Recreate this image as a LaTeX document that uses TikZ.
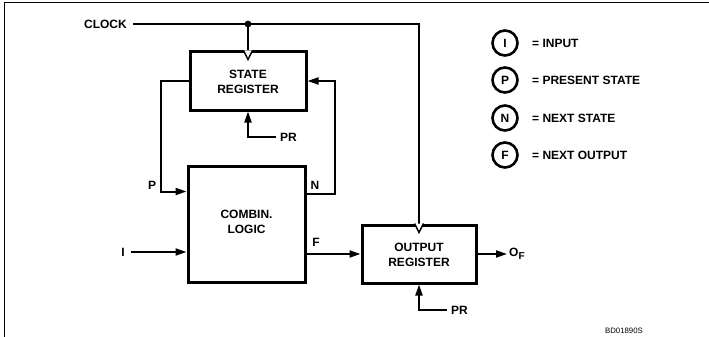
\documentclass[tikz,border=0pt]{standalone}
\usepackage{fontspec}
\setmainfont{Liberation Sans}
\usetikzlibrary{arrows.meta,calc}
\begin{document}
\begin{tikzpicture}[x=1pt,y=-1pt,
  font=\fontsize{12}{15}\selectfont\bfseries,
  blockbox/.style={draw,line width=3pt,inner sep=0pt,align=center},
  wire/.style={line width=2pt},
  arr/.style={wire,-{Triangle[length=11pt,width=7pt]}},
  lgnd/.style={circle,draw,line width=2.6pt,minimum size=25pt,inner sep=0pt},
  lbl/.style={inner sep=1pt},
  clk/.style={line width=1.5pt,fill=white}]
\useasboundingbox (0,0) rectangle (709,337);
% frame
\draw[line width=1.6pt] (4.5,337) -- (4.5,2.5) -- (709,2.5);
% blocks
\node[blockbox,minimum width=116pt,minimum height=58pt] (state) at (248,81) {};
\node[align=center] (statetxt) at (248,81.5) {STATE\\REGISTER};
\node[blockbox,minimum width=117pt,minimum height=116pt] (logic) at (246.5,224) {};
\node[align=center] (logictxt) at (246.5,221.5) {COMBIN.\\LOGIC};
\node[blockbox,minimum width=114pt,minimum height=58pt] (outreg) at (419,254) {};
\node[align=center] (outregtxt) at (419,254.5) {OUTPUT\\REGISTER};
% clock
\node[lbl,anchor=east] (clock) at (128,24) {CLOCK};
\coordinate (dot) at (state.north |- clock);
\coordinate (ckr) at (outreg.north |- clock);
\draw[wire] ([xshift=5pt]clock.east) -- (ckr) -- (outreg.north);
\draw[wire] (dot) -- (state.north);
\fill (dot) circle (3.4pt);
\draw[clk] ($(state.north)+(-4.5,0)$) -- ($(state.north)+(0,9)$) -- ($(state.north)+(4.5,0)$);
\draw[clk] ($(outreg.north)+(-4.5,0)$) -- ($(outreg.north)+(0,9)$) -- ($(outreg.north)+(4.5,0)$);
% P loop
\coordinate (pl) at ($(logic.north west)+(0,27)$);
\draw[arr] (state.west) -- ++(-28,0) |- (pl);
\node[lbl] (P) at (152,185) {P};
% N loop
\coordinate (nl) at ($(logic.north east)+(0,29)$);
\draw[arr] (nl) -- ++(28,0) |- (state.east);
\node[lbl] (N) at (315,185) {N};
% PR state
\coordinate (prs) at (276,137);
\draw[arr] (prs) -| (state.south);
\node[lbl,anchor=west] (prstxt) at (279,137) {PR};
% I input
\node[lbl] (I) at (123,252) {I};
\draw[arr] ([xshift=5pt]I.east) -- (logic.west |- I);
% F
\draw[arr] (logic.east |- outreg.west) -- (outreg.west);
\node[lbl] (F) at (316,242) {F};
% output
\coordinate (oe) at (507,254);
\draw[arr] (outreg.east) -- (oe);
\node[lbl,anchor=west] (of) at (508,254) {O\raisebox{-2.5pt}{\fontsize{10}{12}\selectfont F}};
% PR out
\coordinate (pro) at (447,310);
\draw[arr] (pro) -| (outreg.south);
\node[lbl,anchor=west] (protxt) at (450,310) {PR};
% legend
\node[lgnd] (cI) at (505,43) {I};
\node[lbl,anchor=west] (tI) at (531,43) {= INPUT};
\node[lgnd] (cP) at (505,80) {P};
\node[lbl,anchor=west] (tP) at (531,80) {= PRESENT STATE};
\node[lgnd] (cN) at (505,118) {N};
\node[lbl,anchor=west] (tN) at (531,118) {= NEXT STATE};
\node[lgnd] (cF) at (505,155) {F};
\node[lbl,anchor=west] (tF) at (531,155) {= NEXT OUTPUT};
% id
\node[font=\fontsize{7.8}{9}\selectfont] (bd) at (624,331) {BD01890S};
\end{tikzpicture}
\end{document}
